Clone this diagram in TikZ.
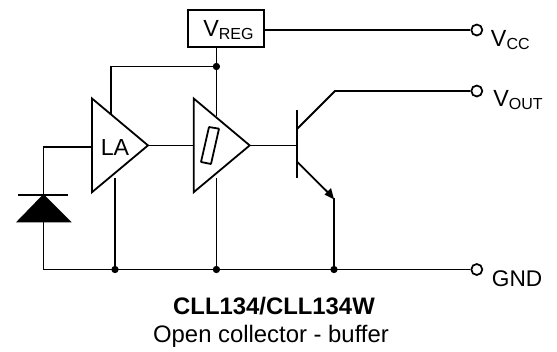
\documentclass[tikz,border=0pt]{standalone}
\usepackage{fontspec}
\setmainfont{Liberation Sans}
\tikzset{
  wire/.style={line width=1.35pt, line join=miter},
  amp/.style={wire, fill=white},
  dot/.style={circle, fill=black, inner sep=0pt, minimum size=5.5pt},
  term/.style={circle, draw, fill=white, line width=1.3pt, inner sep=0pt, minimum size=8.25pt},
  lbl/.style={inner sep=0pt, font=\fontsize{17.5}{20}\selectfont}
}
\newcommand{\lsub}[2]{#1{\fontsize{12}{14}\selectfont\raisebox{-2.25pt}{#2}}}
\begin{document}
\begin{tikzpicture}[x=0.75pt,y=-0.75pt]
\useasboundingbox (0,0) rectangle (557,351);
\node[draw, line width=1.35pt, minimum width=57pt, minimum height=27.75pt, inner sep=0pt] (reg) at (226.2,28.3) {};
\node[lbl, anchor=base west] (lreg) at (203,36) {\lsub{V}{REG}};
\node[term] (vcc) at (476.8,30) {};
\node[term] (vout) at (476.8,91) {};
\node[term] (gnd) at (476.8,269.5) {};
\node[lbl, anchor=base west] (lvcc) at (490.7,46.8) {\lsub{V}{CC}};
\node[lbl, anchor=base west] (lvout) at (493,106.7) {\lsub{V}{OUT}};
\node[lbl, anchor=base west, font=\fontsize{17}{20}\selectfont] (lgnd) at (491.7,286.7) {GND};
\coordinate (j1) at (216.4,66.5);
\coordinate (j2) at (115,269.5);
\coordinate (j3) at (216.4,269.5);
\coordinate (j4) at (334,269.5);
\coordinate (gl) at (43.5,269.5);
\coordinate (in) at (43.5,147);
% wires
\draw[wire] (reg.east |- vcc) -- (vcc.west);
\draw[wire] (reg.south -| j1) -- (216.4,116);
\draw[wire] (j1) -- (110.7,66.5) -- (110.7,114);
\draw[wire] (115,178) -- (j2);
\draw[wire] (216.4,178) -- (j3);
\draw[wire] (gl) -- (gnd.west);
\draw[wire] (gl) -- (in) -- (92,147);
% amplifiers
\draw[amp] (92,98.5) -- (148,145.4) -- (92,192.2) -- cycle;
\draw[amp] (193.7,98.5) -- (249.7,145.4) -- (193.7,192.2) -- cycle;
\draw[wire] (148,145.4) -- (193.7,145.4);
\draw[wire] (249.7,145.4) -- (297,145.4);
\draw[line width=1.35pt, rounded corners=0.4pt] (209,127) -- (219,128.7) -- (211,164) -- (201,162) -- cycle;
\node[inner sep=0pt, anchor=base, font=\fontsize{17.4}{20}\selectfont] (la) at (115,155.7) {LA};
% transistor
\draw[wire] (297,110) -- (297,178);
\draw[wire] (297,129) -- (335,91) -- (vout.west);
\draw[wire] (297,161.7) -- (328,192.5);
\fill (334,199.3) -- (324.5,194.5) -- (331,188) -- cycle;
\draw[wire] (334,198) -- (j4);
% diode
\fill (43.5,194) -- (71.7,222.3) -- (16,222.3) -- cycle;
\draw[wire] (18.3,194.7) -- (67.7,194.7);
% junctions
\foreach \n in {j1,j2,j3,j4} \node[dot] at (\n) {};
% captions
\node[inner sep=0pt, anchor=base, font=\fontsize{17.9}{20}\selectfont\bfseries] (t1) at (274,314) {CLL134/CLL134W};
\node[inner sep=0pt, anchor=base, font=\fontsize{17.9}{20}\selectfont] (t2) at (271,342.7) {Open collector - buffer};
\end{tikzpicture}
\end{document}
